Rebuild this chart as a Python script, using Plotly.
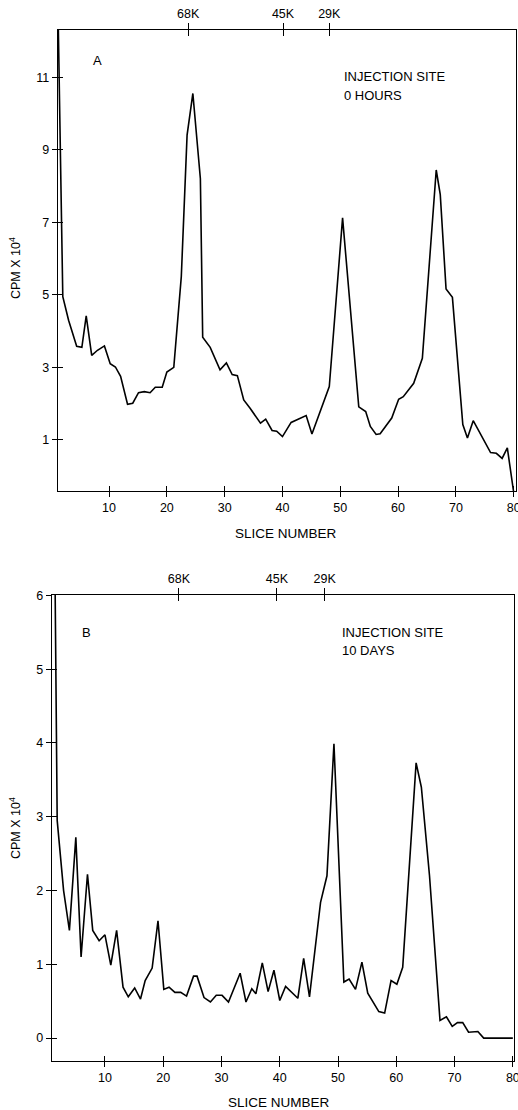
import plotly.graph_objects as go

# ---------------- data ----------------
# Panel A : injection site, 0 hours
a_slice = [1.2, 2.0, 3.0, 4.4, 5.3, 6.05, 7.0, 8.0, 9.2, 10.2, 11.1, 12.0, 13.2, 14.1,
           15.1, 16.1, 17.1, 18.0, 19.2, 20.0, 21.2, 22.5, 23.5, 24.5, 25.8, 26.2, 27.5,
           29.2, 30.3, 31.3, 32.2, 33.3, 34.4, 36.2, 37.1, 38.2, 39.0, 40.0, 41.5, 42.8,
           44.1, 45.1, 48.1, 50.4, 53.2, 54.4, 55.2, 56.2, 56.9, 58.9, 60.1, 60.9, 62.7,
           64.2, 66.6, 67.3, 68.3, 69.4, 71.2, 72.0, 73.0, 76.0, 77.0, 78.0, 78.9, 80.0]
a_cpm = [12.6, 4.95, 4.3, 3.58, 3.55, 4.42, 3.33, 3.47, 3.59, 3.1, 3.01, 2.75, 1.98, 2.01,
         2.3, 2.33, 2.3, 2.45, 2.45, 2.87, 3.0, 5.5, 9.4, 10.55, 8.2, 3.83, 3.55,
         2.93, 3.12, 2.8, 2.77, 2.1, 1.87, 1.46, 1.57, 1.26, 1.24, 1.09, 1.48, 1.57,
         1.67, 1.16, 2.47, 7.12, 1.91, 1.78, 1.37, 1.15, 1.17, 1.6, 2.12, 2.19, 2.56,
         3.25, 8.44, 7.76, 5.16, 4.93, 1.42, 1.05, 1.53, 0.65, 0.63, 0.49, 0.78, -0.45]

# Panel B : injection site, 10 days
b_slice = [1.4, 1.8, 2.9, 3.9, 5.0, 5.9, 7.0, 7.9, 9.0, 10.0, 11.0, 12.0, 13.1, 14.0,
           15.1, 16.1, 16.9, 18.1, 19.1, 20.1, 21.0, 22.0, 23.0, 24.0, 25.2, 25.8, 27.0,
           28.1, 29.1, 30.1, 31.2, 32.1, 33.2, 34.2, 35.2, 35.9, 37.0, 38.0, 39.0, 40.0,
           41.0, 43.1, 44.1, 45.1, 46.1, 47.0, 48.1, 49.3, 51.0, 51.9, 53.0, 54.1, 55.1,
           57.0, 58.0, 59.1, 60.1, 61.1, 63.4, 64.3, 65.7, 67.5, 68.6, 69.6, 70.5, 71.4,
           72.4, 74.0, 75.0, 80.0]
b_cpm = [6.5, 2.95, 2.0, 1.46, 2.72, 1.1, 2.22, 1.46, 1.32, 1.4, 0.99, 1.46, 0.69, 0.56,
         0.68, 0.53, 0.78, 0.95, 1.59, 0.66, 0.69, 0.62, 0.62, 0.57, 0.84, 0.84, 0.55,
         0.49, 0.58, 0.58, 0.49, 0.66, 0.88, 0.49, 0.67, 0.6, 1.02, 0.63, 0.92, 0.51,
         0.70, 0.54, 1.08, 0.56, 1.26, 1.84, 2.2, 3.99, 0.76, 0.8, 0.66, 1.03, 0.61,
         0.36, 0.34, 0.78, 0.73, 0.96, 3.73, 3.40, 2.2, 0.24, 0.29, 0.16, 0.21, 0.21,
         0.08, 0.09, 0.0, 0.0]

x_ticks = [10, 20, 30, 40, 50, 60, 70, 80]
a_y_ticks = [1, 3, 5, 7, 9, 11]
b_y_ticks = [0, 1, 2, 3, 4, 5, 6]
marker_labels = ["68K", "45K", "29K"]
a_marker_pos = [23.7, 40.1, 48.1]
b_marker_pos = [22.7, 39.5, 47.7]

# ---------------- layout helpers ----------------
W, H = 518, 1110
FONT = "Liberation Sans, Arial, Helvetica, sans-serif"


def px_x(p):
    return p / W


def px_y(p):
    return 1 - p / H


panels = [
    dict(x=a_slice, y=a_cpm, xr=[1.17, 80.4], yr=[-0.41, 12.3], yt=a_y_ticks,
         mpos=a_marker_pos, xd=[58, 516], yd=[30, 491]),
    dict(x=b_slice, y=b_cpm, xr=[0.91, 80.2], yr=[-0.31, 6.005], yt=b_y_ticks,
         mpos=b_marker_pos, xd=[52, 514], yd=[595, 1061]),
]

fig = go.Figure()
layout = {}
axis_font = dict(family=FONT, size=12.5, color="black")


def xn(k):
    return "x" if k == 1 else f"x{k}"


def yn(k):
    return "y" if k == 1 else f"y{k}"


def xkey(k):
    return "xaxis" if k == 1 else f"xaxis{k}"


def ykey(k):
    return "yaxis" if k == 1 else f"yaxis{k}"


for i, p in enumerate(panels):
    xb = 1 + i * 4   # bottom main x axis index
    yb = 1 + i * 2   # main y axis index

    xdom = [px_x(p["xd"][0]), px_x(p["xd"][1])]
    ydom = [px_y(p["yd"][1]), px_y(p["yd"][0])]

    fig.add_trace(go.Scatter(x=p["x"], y=p["y"], mode="lines",
                             line=dict(color="black", width=1.6),
                             xaxis=xn(xb), yaxis=yn(yb), showlegend=False,
                             hoverinfo="skip"))

    common_x = dict(range=p["xr"], domain=xdom, anchor=yn(yb), showgrid=False,
                    zeroline=False, tickcolor="black", tickwidth=1.2,
                    automargin=False)
    common_y = dict(range=p["yr"], domain=ydom, anchor=xn(xb), showgrid=False,
                    zeroline=False, tickcolor="black", tickwidth=1.2,
                    automargin=False)

    layout[xkey(xb)] = dict(common_x, tickvals=x_ticks, ticks="outside", ticklen=5,
                            showline=True, linecolor="black", linewidth=1.4,
                            mirror=True, tickfont=axis_font,
                            ticklabeloverflow="allow")
    layout[xkey(xb + 1)] = dict(common_x, overlaying=xn(xb), side="top",
                                tickvals=p["mpos"], ticktext=marker_labels,
                                ticks="outside", ticklen=6, showline=False,
                                tickfont=dict(family=FONT, size=12.5, color="black"))
    layout[xkey(xb + 2)] = dict(common_x, overlaying=xn(xb), tickvals=x_ticks,
                                ticks="inside", ticklen=5, showticklabels=False,
                                showline=False)
    layout[xkey(xb + 3)] = dict(common_x, overlaying=xn(xb), side="top",
                                tickvals=p["mpos"], ticks="inside", ticklen=6,
                                showticklabels=False, showline=False)
    layout[ykey(yb)] = dict(common_y, tickvals=p["yt"], ticks="outside", ticklen=5,
                            showline=True, linecolor="black", linewidth=1.4,
                            mirror=True, tickfont=axis_font)
    layout[ykey(yb + 1)] = dict(common_y, overlaying=yn(yb), tickvals=p["yt"],
                                ticks="inside", ticklen=5, showticklabels=False,
                                showline=False)

    for k in (xb + 1, xb + 2, xb + 3):
        fig.add_trace(go.Scatter(x=[None], y=[None], xaxis=xn(k), yaxis=yn(yb),
                                 showlegend=False, hoverinfo="skip"))
    fig.add_trace(go.Scatter(x=[None], y=[None], xaxis=xn(xb), yaxis=yn(yb + 1),
                             showlegend=False, hoverinfo="skip"))

# ---------------- text ----------------
txt = dict(family=FONT, size=13, color="black")
title_font = dict(family=FONT, size=13.5, color="black")
annotations = [
    dict(x=px_x(97), y=px_y(61), text="A", font=txt),
    dict(x=px_x(342), y=px_y(77), text="INJECTION SITE", font=txt, xanchor="left"),
    dict(x=px_x(342), y=px_y(95), text="0 HOURS", font=txt, xanchor="left"),
    dict(x=px_x(86), y=px_y(633), text="B", font=txt),
    dict(x=px_x(340), y=px_y(632), text="INJECTION SITE", font=txt, xanchor="left"),
    dict(x=px_x(340), y=px_y(650), text="10 DAYS", font=txt, xanchor="left"),
    dict(x=px_x(286), y=px_y(533), text="SLICE NUMBER", font=title_font),
    dict(x=px_x(279), y=px_y(1102), text="SLICE NUMBER", font=title_font),
    dict(x=px_x(15), y=px_y(268), text="CPM X 10<sup>4</sup>", textangle=-90,
         font=dict(family=FONT, size=12.5, color="black")),
    dict(x=px_x(15), y=px_y(828), text="CPM X 10<sup>4</sup>", textangle=-90,
         font=dict(family=FONT, size=12.5, color="black")),
]
for a in annotations:
    a.setdefault("xanchor", "center")
    a.update(xref="paper", yref="paper", showarrow=False, yanchor="middle")

fig.update_layout(
    width=W, height=H,
    margin=dict(l=0, r=0, t=0, b=0, autoexpand=False),
    paper_bgcolor="white", plot_bgcolor="white",
    showlegend=False,
    annotations=annotations,
    **layout,
)

fig.write_html("out.html")
